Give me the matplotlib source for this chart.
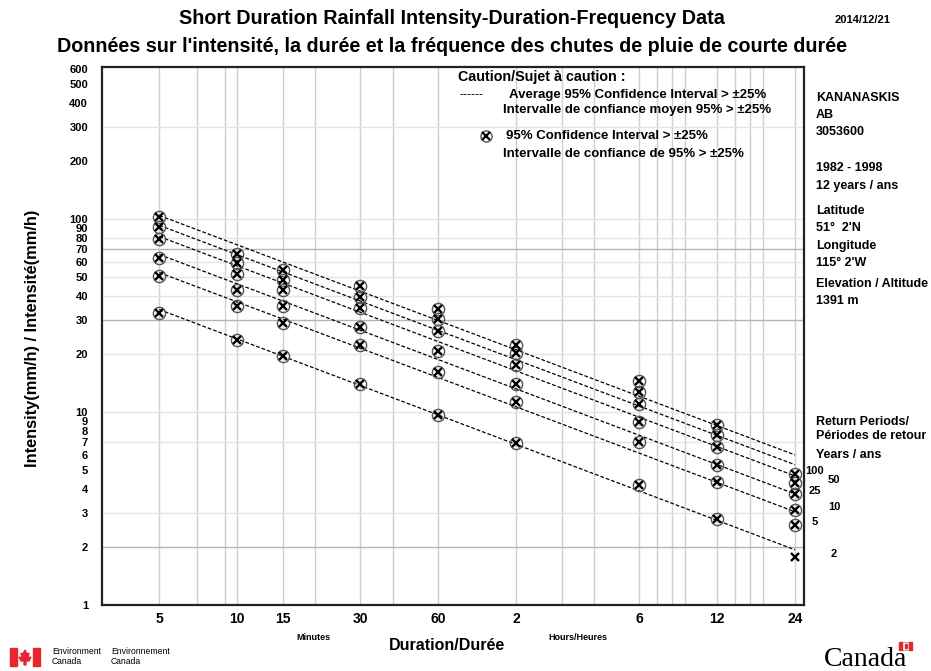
import numpy as np
import matplotlib
matplotlib.use('Agg')
import matplotlib.pyplot as plt
from matplotlib.patches import Rectangle, Polygon

# ---------------- data ----------------
durations = [5, 10, 15, 30, 60, 120, 360, 720, 1440]          # minutes
tick_labels = ['5', '10', '15', '30', '60', '2', '6', '12', '24']
return_periods = ['2', '5', '10', '25', '50', '100']
int_2 = [32.4, 23.7, 19.6, 14.0, 9.69, 6.93, 4.17, 2.79, 1.77]
int_5 = [50.9, 35.2, 28.9, 22.2, 16.1, 11.2, 6.96, 4.35, 2.59]
int_10 = [63.0, 42.9, 35.2, 27.5, 20.8, 14.0, 8.83, 5.34, 3.11]
int_25 = [78.5, 51.9, 42.9, 34.5, 26.4, 17.6, 11.0, 6.62, 3.78]
int_50 = [90.6, 59.0, 48.4, 39.3, 30.4, 20.1, 12.7, 7.56, 4.29]
int_100 = [102.1, 65.9, 54.5, 44.7, 34.2, 22.3, 14.4, 8.57, 4.78]
# True where the 95% confidence interval exceeds +/-25% (circled marker)
wide_2 = [True, True, True, True, True, True, True, True, False]
wide_other = [True] * 9

series = [int_2, int_5, int_10, int_25, int_50, int_100]
wide_flags = [wide_2, wide_other, wide_other, wide_other, wide_other, wide_other]

x_grid = [5, 7, 9, 10, 15, 20, 30, 40, 60, 120, 180, 240, 360, 420, 480,
          540, 720, 840, 960, 1080, 1440]
y_grid = [2, 3, 7, 10, 20, 30, 40, 50, 60, 70, 80, 100, 300]
y_grid_dark = [2, 30, 70]
y_ticks = [1, 2, 3, 4, 5, 6, 7, 8, 9, 10, 20, 30, 40, 50, 60, 70, 80, 90,
           100, 200, 300, 400, 500, 600]

W, H = 931, 671
fig = plt.figure(figsize=(W / 100, H / 100), dpi=100)
plt.rcParams['font.family'] = ['Liberation Sans', 'DejaVu Sans']

def P(x, y):
    return x / W, 1 - y / H

ax = fig.add_axes([102 / W, 1 - 605 / H, (804 - 102) / W, (605 - 67) / H])
ax.set_xscale('log')
ax.set_yscale('log')
ax.set_xlim(3.0, 1560)
ax.set_ylim(1, 612)

for xv in x_grid:
    ax.axvline(xv, color='#d0d0d0', lw=1.0, zorder=0)
for yv in y_grid:
    ax.axhline(yv, color='#b4b4b4' if yv in y_grid_dark else '#e4e4e4',
               lw=1.0, zorder=0)

ax.set_xticks(durations)
ax.set_xticklabels(tick_labels, fontsize=10, fontweight='bold')
ax.xaxis.set_minor_locator(matplotlib.ticker.NullLocator())
ax.set_yticks(y_ticks)
ax.set_yticklabels([str(v) for v in y_ticks], fontsize=8, fontweight='bold')
ax.yaxis.set_minor_locator(matplotlib.ticker.NullLocator())
ax.tick_params(axis='both', length=0)
ax.tick_params(axis='y', pad=10)
ax.tick_params(axis='x', pad=5)
for s in ax.spines.values():
    s.set_linewidth(1.6)
    s.set_color('#222222')

logd = np.log10(durations)
xfit = np.array([durations[0], durations[-1]], dtype=float)
for vals, flags, rp in zip(series, wide_flags, return_periods):
    v = np.array(vals)
    coef = np.polyfit(logd, np.log10(v), 1)
    ax.plot(xfit, 10 ** np.polyval(coef, np.log10(xfit)), color='black',
            lw=0.9, dashes=(3, 1.6), zorder=2)
    d = np.array(durations)
    f = np.array(flags)
    ax.plot(d[f], v[f], linestyle='none', marker='o', ms=8.8, mfc='none',
            mec='#555555', mew=1.0, zorder=3)
    ax.plot(d, v, linestyle='none', marker='x', ms=6.0, mec='black',
            mew=1.7, zorder=4)
    off = 20 if rp in ('100', '25', '5') else 39
    ax.annotate(rp, xy=(durations[-1], vals[-1]), xytext=(off, 3),
                textcoords='offset pixels', ha='center', va='center',
                fontsize=8, fontweight='bold', annotation_clip=False)

# caution legend inside the plot
fig.text(*P(458, 77), 'Caution/Sujet à caution :', fontsize=10.3,
         fontweight='bold', va='center')
fig.text(*P(460, 95), '------', fontsize=9, va='center')
fig.text(*P(509, 95), 'Average 95% Confidence Interval > ±25%', fontsize=9.5,
         fontweight='bold', va='center')
fig.text(*P(503, 110), 'Intervalle de confiance moyen 95% > ±25%',
         fontsize=9.5, fontweight='bold', va='center')
lx, ly = P(486, 136)
ax.plot([lx], [ly], transform=fig.transFigure, marker='o', ms=8, mfc='none',
        mec='#555555', mew=1.0, linestyle='none', clip_on=False)
ax.plot([lx], [ly], transform=fig.transFigure, marker='x', ms=5.5,
        mec='black', mew=1.6, linestyle='none', clip_on=False)
fig.text(*P(506, 136), '95% Confidence Interval > ±25%', fontsize=9.5,
         fontweight='bold', va='center')
fig.text(*P(503, 154), 'Intervalle de confiance de 95% > ±25%', fontsize=9.5,
         fontweight='bold', va='center')

# titles
fig.text(*P(452, 18), 'Short Duration Rainfall Intensity-Duration-Frequency Data',
         fontsize=14.2, fontweight='bold', ha='center', va='center')
fig.text(*P(452, 47), "Données sur l'intensité, la durée et la fréquence des chutes de pluie de courte durée",
         fontsize=14.2, fontweight='bold', ha='center', va='center')
fig.text(*P(835, 20), '2014/12/21', fontsize=8, fontweight='bold', va='center')

# station info
info = [(98, 'KANANASKIS'), (115, 'AB'), (132, '3053600'),
        (168, '1982 - 1998'), (186, '12 years / ans'), (211, 'Latitude'),
        (228, "51°  2'N"), (246, 'Longitude'), (263, "115° 2'W"),
        (284, 'Elevation / Altitude'), (301, '1391 m'),
        (422, 'Return Periods/'), (436, 'Périodes de retour'),
        (455, 'Years / ans')]
for y, t in info:
    fig.text(*P(816, y), t, fontsize=9, fontweight='bold', va='center')

# axis labels
fig.text(*P(33, 338), 'Intensity(mm/h) / Intensité(mm/h)', fontsize=11.8,
         fontweight='bold', rotation=90, ha='center', va='center')
fig.text(*P(447, 645), 'Duration/Durée', fontsize=11.5, fontweight='bold',
         ha='center', va='center')
fig.text(*P(313, 637), 'Minutes', fontsize=6.5, fontweight='bold',
         ha='center', va='center')
fig.text(*P(578, 637), 'Hours/Heures', fontsize=6.5, fontweight='bold',
         ha='center', va='center')

# footer: Environment Canada signature
red = '#e8262d'
x0, y0 = P(10, 666)
fig.patches.append(Rectangle((x0, y0), 7 / W, 18 / H, transform=fig.transFigure,
                             color=red, figure=fig))
x1, _ = P(33, 666)
fig.patches.append(Rectangle((x1, y0), 7 / W, 18 / H, transform=fig.transFigure,
                             color=red, figure=fig))
leaf = [(25, 650), (27, 654), (29, 653), (28, 658), (31, 657), (29, 661),
        (26, 661), (26, 665), (24, 665), (24, 661), (21, 661), (19, 657),
        (22, 658), (21, 653), (23, 654)]
fig.patches.append(Polygon([P(a, b) for a, b in leaf], closed=True,
                           transform=fig.transFigure, color=red, figure=fig))
fig.text(*P(52, 652), 'Environment', fontsize=6.2, va='center')
fig.text(*P(52, 662), 'Canada', fontsize=6.2, va='center')
fig.text(*P(111, 652), 'Environnement', fontsize=6.2, va='center')
fig.text(*P(111, 662), 'Canada', fontsize=6.2, va='center')
fig.text(*P(824, 666), 'Canada', fontsize=20, family='Liberation Serif',
         va='baseline')
fx, fy = P(899, 650)
fig.patches.append(Rectangle((fx, fy), 13 / W, 8 / H, transform=fig.transFigure,
                             facecolor='white', edgecolor='#888888', lw=0.5,
                             figure=fig))
fig.patches.append(Rectangle((fx, fy), 3.3 / W, 8 / H, transform=fig.transFigure,
                             color=red, figure=fig))
fig.patches.append(Rectangle((fx + 9.7 / W, fy), 3.3 / W, 8 / H,
                             transform=fig.transFigure, color=red, figure=fig))
fig.patches.append(Rectangle((fx + 5.5 / W, fy + 2.5 / H), 2 / W, 3.5 / H,
                             transform=fig.transFigure, color=red, figure=fig))

fig.savefig('out.png', dpi=100)
